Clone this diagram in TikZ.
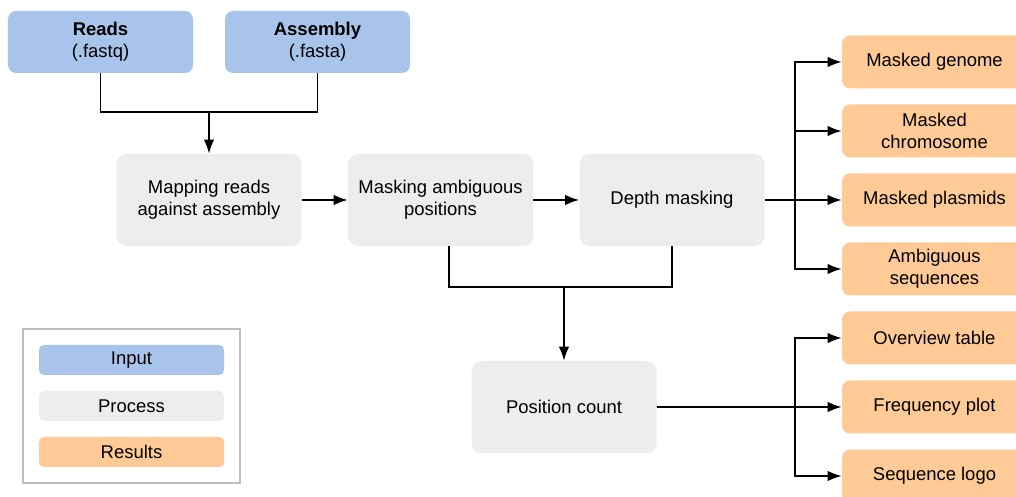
\documentclass[tikz,border=0pt]{standalone}
\usepackage{fontspec}
\setmainfont{Liberation Sans}
\usetikzlibrary{arrows.meta}
\definecolor{inputblue}{HTML}{A9C4EB}
\definecolor{processgray}{HTML}{EDEDED}
\definecolor{resultorange}{HTML}{FFCA96}
\definecolor{framegray}{HTML}{BFBFBF}
\tikzstyle{input} = [rectangle, rounded corners=0.16cm, minimum width=3.7cm, minimum height=1.24cm, align=center, fill=inputblue]
\tikzstyle{process} = [rectangle, rounded corners=0.2cm, minimum width=3.7cm, minimum height=1.84cm, align=center, fill=processgray]
\tikzstyle{result} = [rectangle, rounded corners=0.16cm, minimum width=3.7cm, minimum height=1.06cm, align=center, fill=resultorange]
\tikzstyle{legenditem} = [rectangle, rounded corners=0.1cm, minimum width=3.7cm, minimum height=0.6cm]
\tikzstyle{line} = [line width=0.9pt]
\tikzstyle{arrow} = [line width=0.9pt,->,>={Latex[length=8pt,width=6pt]}]

\begin{document}
\begin{tikzpicture}[every node/.style={font=\fontsize{10.5}{12.5}\selectfont}]

\useasboundingbox (0,0) rectangle (20.32,-9.94);

% inputs
\node[input] (reads) at (2.01,-0.84) {\textbf{Reads}\\(.fastq)};
\node[input, right of = reads, xshift = 3.34cm] (assembly) {\textbf{Assembly}\\(.fasta)};

% processes
\node[process] (mapping) at (4.18,-4.0) {Mapping reads\\against assembly};
\node[process, right of = mapping, xshift = 3.63cm] (masking) {Masking ambiguous\\positions};
\node[process, right of = masking, xshift = 3.63cm] (depth) {Depth masking};
\node[process] (count) at (11.28,-8.14) {Position count};

% results
\node[result] (genome) at (18.69,-1.24) {Masked genome};
\node[result, below of = genome, yshift = -0.38cm] (chromosome) {Masked\\chromosome};
\node[result, below of = chromosome, yshift = -0.38cm] (plasmids) {Masked plasmids};
\node[result, below of = plasmids, yshift = -0.38cm] (ambiguous) {Ambiguous\\sequences};
\node[result, below of = ambiguous, yshift = -0.38cm] (overview) {Overview table};
\node[result, below of = overview, yshift = -0.38cm] (frequency) {Frequency plot};
\node[result, below of = frequency, yshift = -0.38cm] (logo) {Sequence logo};

% legend
\node[draw=framegray, line width=0.8pt, minimum width=4.34cm, minimum height=3.08cm] (legend) at (2.63,-8.12) {};
\node[legenditem, fill=inputblue] (leginput) at (2.63,-7.2) {Input};
\node[legenditem, fill=processgray, below of = leginput, yshift = 0.08cm] (legprocess) {Process};
\node[legenditem, fill=resultorange, below of = legprocess, yshift = 0.08cm] (legresults) {Results};

% connectors
\coordinate (join1) at (mapping |- 0,-2.24);
\coordinate (join2) at (count |- 0,-5.74);
\coordinate (branch1) at (15.9,-4.0);
\coordinate (branch2) at (15.9,-8.14);

\draw[line] (reads.south) |- (join1) -| (assembly.south);
\draw[arrow] (join1) -- (mapping);
\draw[arrow] (mapping) -- (masking);
\draw[arrow] (masking) -- (depth);
\draw[line] ([xshift=0.17cm]masking.south) |- (join2) -| (depth.south);
\draw[arrow] (join2) -- (count);

\draw[arrow] (depth) -- (plasmids);
\draw[arrow] (branch1) |- (genome.west);
\draw[arrow] (branch1) |- (chromosome.west);
\draw[arrow] (branch1) |- (ambiguous.west);

\draw[arrow] (count) -- (frequency);
\draw[arrow] (branch2) |- (overview.west);
\draw[arrow] (branch2) |- (logo.west);

\end{tikzpicture}
\end{document}
